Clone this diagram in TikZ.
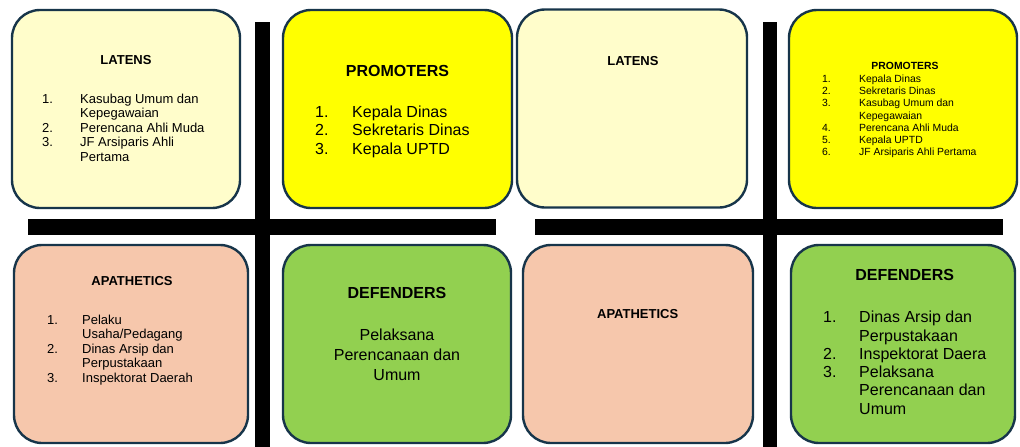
\documentclass[tikz,border=0pt]{standalone}
\usepackage{fontspec}
\setmainfont{Liberation Sans}
\usepackage{array}

\definecolor{quadline}{HTML}{17354A}
\definecolor{latensfill}{HTML}{FFFDCB}
\definecolor{promofill}{HTML}{FFFF00}
\definecolor{apathfill}{HTML}{F6C7AC}
\definecolor{defendfill}{HTML}{92D050}

\newcommand{\numlist}[2]{\begin{tabular}[t]{@{}p{#1}@{}l@{}}#2\end{tabular}}

\tikzset{
  quad/.style={draw=quadline, line width=2.4pt, rounded corners=28pt,
    minimum width=#1, minimum height=198pt, inner sep=0pt},
  quadtitle/.style={anchor=base, inner sep=0pt, font=\bfseries\fontsize{#1}{#1}\selectfont},
  quaditems/.style={anchor=base west, inner sep=0pt},
  bar/.style={fill=black}
}

\begin{document}
\begin{tikzpicture}[x=1pt, y=-1pt]

\useasboundingbox (0,0) rectangle (1020,447);

\fill[bar] (255,22) rectangle (270,447);
\fill[bar] (28,219) rectangle (496,235);
\fill[bar] (763,22) rectangle (777,447);
\fill[bar] (535,219) rectangle (1003,235);

\node[quad=228pt, fill=latensfill] (latensA) at (126,109) {};
\node[quad=229pt, fill=promofill] (promoA) at (397.5,109) {};
\node[quad=230pt, fill=latensfill] (latensB) at (632,108.5) {};
\node[quad=228pt, fill=promofill] (promoB) at (903,109) {};
\node[quad=234pt, fill=apathfill] (apathA) at (131,344) {};
\node[quad=228pt, fill=defendfill] (defendA) at (397,344) {};
\node[quad=230pt, fill=apathfill] (apathB) at (638,344) {};
\node[quad=224pt, fill=defendfill] (defendB) at (903,344) {};

\node[quadtitle=13] (latensAt) at (126,64) {LATENS};
\node[quaditems, font=\fontsize{13}{14.5}\selectfont] (latensAi) at (42,103)
  {\numlist{38pt}{1. & Kasubag Umum dan\\ & Kepegawaian\\ 2. & Perencana Ahli Muda\\ 3. & JF Arsiparis Ahli\\ & Pertama}};

\node[quadtitle=16] (promoAt) at (397.5,76) {PROMOTERS};
\node[quaditems, font=\fontsize{16}{18.5}\selectfont] (promoAi) at (315,117)
  {\numlist{37pt}{1. & Kepala Dinas\\ 2. & Sekretaris Dinas\\ 3. & Kepala UPTD}};

\node[quadtitle=13] (latensBt) at (633,65) {LATENS};

\node[quadtitle=10.4] (promoBt) at (905,69) {PROMOTERS};
\node[quaditems, font=\fontsize{10.4}{12.2}\selectfont] (promoBi) at (822,82.5)
  {\numlist{37pt}{1. & Kepala Dinas\\ 2. & Sekretaris Dinas\\ 3. & Kasubag Umum dan\\ & Kepegawaian\\ 4. & Perencana Ahli Muda\\ 5. & Kepala UPTD\\ 6. & JF Arsiparis Ahli Pertama}};

\node[quadtitle=13] (apathAt) at (132,285) {APATHETICS};
\node[quaditems, font=\fontsize{13}{14.5}\selectfont] (apathAi) at (47,324)
  {\numlist{35pt}{1. & Pelaku\\ & Usaha/Pedagang\\ 2. & Dinas Arsip dan\\ & Perpustakaan\\ 3. & Inspektorat Daerah}};

\node[quadtitle=16] (defendAt) at (397,298) {DEFENDERS};
\node[anchor=base, inner sep=0pt, font=\fontsize{16}{20}\selectfont] (defendAi) at (397,340)
  {\begin{tabular}[t]{@{}c@{}}Pelaksana\\ Perencanaan dan\\ Umum\end{tabular}};

\node[quadtitle=13] (apathBt) at (637.7,318) {APATHETICS};

\node[quadtitle=16] (defendBt) at (904.7,280) {DEFENDERS};
\node[quaditems, font=\fontsize{16}{18.3}\selectfont] (defendBi) at (823,322.7)
  {\numlist{36pt}{1. & Dinas Arsip dan\\ & Perpustakaan\\ 2. & Inspektorat Daera\\ 3. & Pelaksana\\ & Perencanaan dan\\ & Umum}};

\end{tikzpicture}
\end{document}
